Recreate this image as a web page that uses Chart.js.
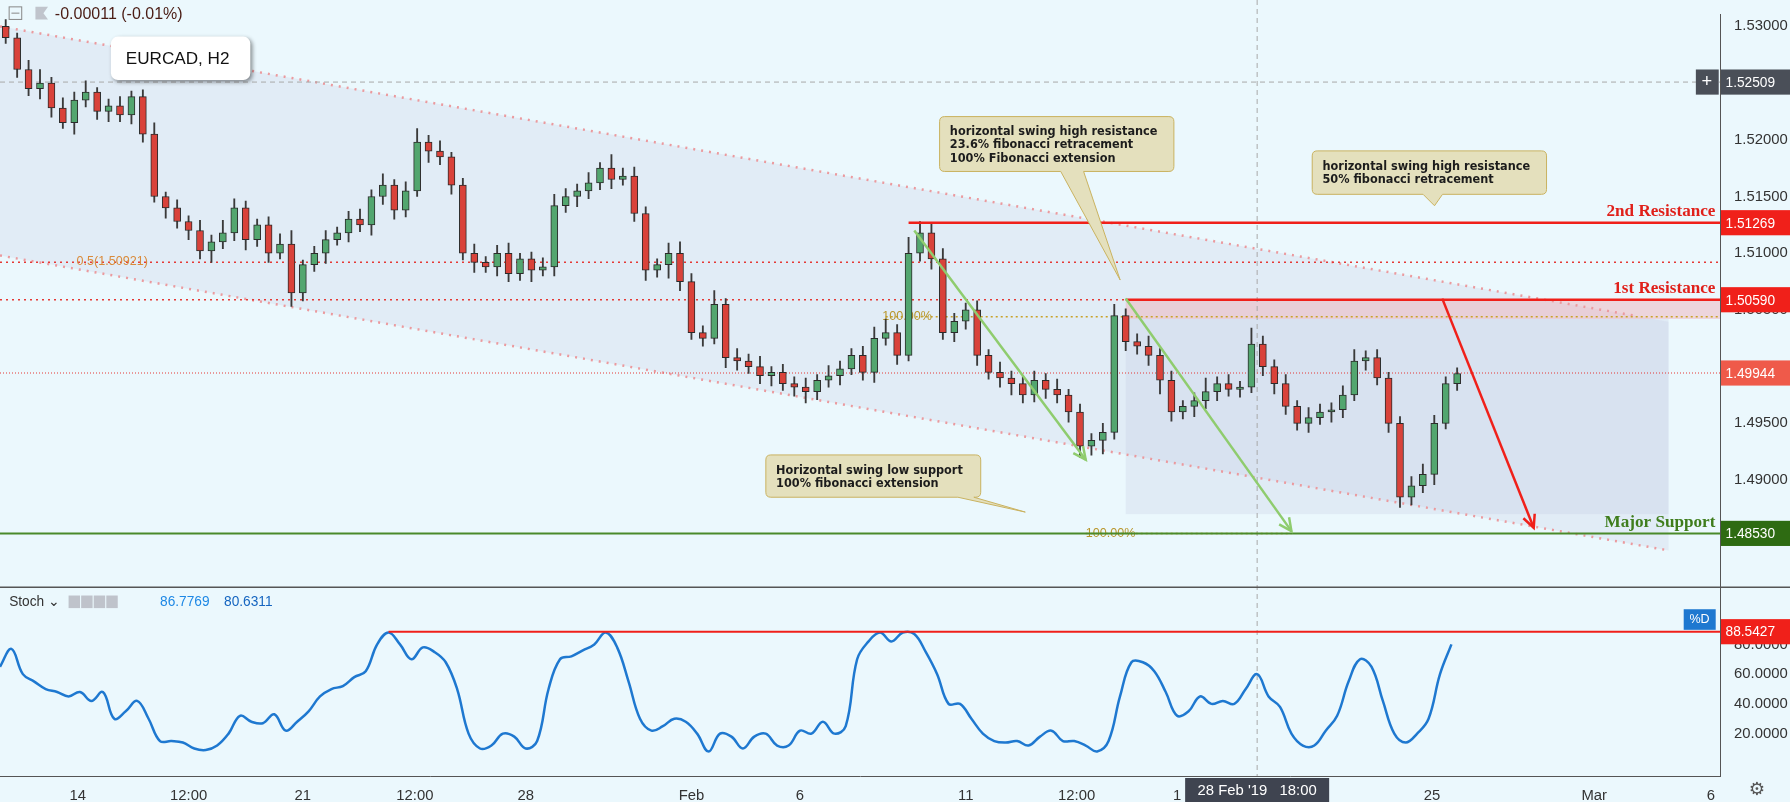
<!DOCTYPE html>
<html>
<head>
<meta charset="UTF-8">
<title>EURCAD H2</title>
<script src="https://cdn.jsdelivr.net/npm/chart.js"></script>
<style>
  html, body { margin: 0; padding: 0; background: #ebf8fd; }
  #wrap { width: 1790px; height: 802px; position: relative; }
</style>
</head>
<body>
<div id="wrap"><canvas id="c" width="1790" height="802"></canvas></div>
<script>
// candle closes (2h bars, every other bar kept)
const closes = [
  1.5290,1.5262,1.5245,1.5250,1.5228,1.5215,1.5235,1.5242,1.5225,1.5230,
  1.5222,1.5238,1.5205,1.5150,1.5140,1.5128,1.5120,1.5102,1.5110,1.5118,
  1.5140,1.5112,1.5125,1.5100,1.5108,1.5065,1.5090,1.5100,1.5112,1.5118,
  1.5130,1.5125,1.5150,1.5160,1.5138,1.5155,1.5198,1.5190,1.5185,1.5160,
  1.5100,1.5092,1.5088,1.5100,1.5082,1.5095,1.5085,1.5088,1.5142,1.5150,
  1.5155,1.5162,1.5175,1.5165,1.5168,1.5135,1.5085,1.5090,1.5100,1.5075,
  1.5030,1.5025,1.5055,1.5008,1.5005,1.5000,1.4992,1.4995,1.4985,1.4982,
  1.4978,1.4988,1.4992,1.4998,1.5010,1.4995,1.5025,1.5030,1.5010,1.5100,
  1.5118,1.5095,1.5030,1.5040,1.5050,1.5010,1.4995,1.4990,1.4985,1.4975,
  1.4988,1.4980,1.4975,1.4960,1.4930,1.4935,1.4942,1.5045,1.5022,1.5018,
  1.5010,1.4988,1.4960,1.4965,1.4970,1.4978,1.4985,1.4980,1.4982,1.5020,
  1.5000,1.4985,1.4965,1.4950,1.4955,1.4960,1.4962,1.4975,1.5005,1.5008,
  1.4990,1.4950,1.4885,1.4895,1.4905,1.4950,1.4985,1.4994
];
const firstOpen = 1.5300;
// wick lengths in pips above / below the body
const upperWick = [
  6,4,8,12,5,9,7,10,4,6, 8,5,6,10,4,7,5,9,6,11, 8,6,5,7,9,12,4,6,8,5,
  7,9,6,10,5,8,12,6,9,4, 6,8,5,7,9,5,6,8,10,7, 6,9,5,12,7,8,6,5,9,10,
  7,6,12,5,8,6,9,5,7,6, 8,5,9,7,6,8,10,12,7,14, 10,8,9,7,6,8,5,9,6,7,
  8,6,9,5,7,6,8,10,6,7, 9,6,8,5,7,12,6,8,5,14, 7,6,8,5,9,7,6,8,10,6, 7,5,6,8,9,7,6,5
];
const lowerWick = [
  5,7,6,9,8,5,10,6,7,9, 6,8,7,5,9,6,8,7,10,6, 7,9,6,8,5,12,7,6,9,5,
  8,6,9,7,8,6,5,10,7,8, 6,9,5,8,7,6,10,5,8,6, 9,7,6,8,5,7,9,6,12,8,
  6,7,5,9,8,6,7,9,6,8, 10,7,6,8,5,7,9,6,8,5, 7,9,6,8,7,9,6,8,10,7,
  6,8,7,9,10,8,12,6,8,7, 9,12,8,6,9,7,8,6,7,5, 8,9,7,6,8,6,9,7,5,8, 6,8,9,7,6,9,5,6
];
// stochastic %D, one value per 20px column of the chart
const stochD = [
  65,77,60,55,50,48,45,48,42,48, 30,35,42,30,15,15,14,10,9,12,
  20,32,28,27,33,22,28,35,45,50, 52,58,62,80,88,80,70,78,75,68,
  50,20,10,12,20,18,10,15,50,70, 72,76,80,88,78,55,30,22,25,30,
  28,20,8,20,18,10,18,20,12,12, 22,20,28,20,25,70,82,88,82,88,
  87,75,60,40,40,30,20,15,14,15, 12,18,22,15,15,12,8,15,45,68,
  68,62,48,32,35,45,40,42,40,50, 60,45,38,20,12,12,22,32,55,70,
  65,42,20,14,20,30,60,80
];
const tickPos = [6.8, 16.5, 26.5, 36.3, 46, 60.5, 70, 84.5, 94.2, 103, 125.3, 139.5, 149.7];
const tickText = ['14','12:00','21','12:00','28','Feb','6','11','12:00','1','25','Mar','6'];

const K = 1790 / 1566;
const UP = '#53a66f', DN = '#d9423a', EDGE = '#2b2b2b';

const opens = closes.map((c, i) => i === 0 ? firstOpen : closes[i - 1]);
const bodies = closes.map((c, i) => ({ x: i + 0.5, y: [opens[i], c] }));
const wicks = closes.map((c, i) => ({
  x: i + 0.5,
  y: [Math.min(opens[i], c) - lowerWick[i] * 0.0001, Math.max(opens[i], c) + upperWick[i] * 0.0001]
}));
const colors = closes.map((c, i) => c >= opens[i] ? UP : DN);

function dashLine(ctx, x1, y1, x2, y2, color, width, dash) {
  ctx.save();
  ctx.strokeStyle = color; ctx.lineWidth = width; ctx.setLineDash(dash || []);
  ctx.beginPath(); ctx.moveTo(x1, y1); ctx.lineTo(x2, y2); ctx.stroke();
  ctx.restore();
}
function arrow(ctx, x1, y1, x2, y2, color, width) {
  dashLine(ctx, x1, y1, x2, y2, color, width);
  const a = Math.atan2(y2 - y1, x2 - x1), L = 14;
  ctx.save(); ctx.strokeStyle = color; ctx.lineWidth = width;
  ctx.beginPath();
  ctx.moveTo(x2 - L * Math.cos(a - 0.45), y2 - L * Math.sin(a - 0.45));
  ctx.lineTo(x2, y2);
  ctx.lineTo(x2 - L * Math.cos(a + 0.45), y2 - L * Math.sin(a + 0.45));
  ctx.stroke(); ctx.restore();
}
function tag(ctx, x, y, text, bg, fg) {
  ctx.save();
  ctx.font = (12 * K) + 'px "Liberation Sans", sans-serif';
  ctx.fillStyle = bg;
  ctx.fillRect(x, y - 11 * K, 62 * K, 22 * K);
  ctx.fillStyle = fg; ctx.textBaseline = 'middle'; ctx.textAlign = 'left';
  ctx.fillText(text, x + 4 * K, y + 1);
  ctx.restore();
}
function callout(ctx, bx, by, bw, bh, px1, px2, tx, ty, lines) {
  ctx.save();
  ctx.fillStyle = '#e4e0bd'; ctx.strokeStyle = '#c9b260'; ctx.lineWidth = 1;
  const r = 5;
  ctx.beginPath();
  ctx.moveTo(bx + r, by); ctx.lineTo(bx + bw - r, by); ctx.quadraticCurveTo(bx + bw, by, bx + bw, by + r);
  ctx.lineTo(bx + bw, by + bh - r); ctx.quadraticCurveTo(bx + bw, by + bh, bx + bw - r, by + bh);
  ctx.lineTo(px2, by + bh); ctx.lineTo(tx, ty); ctx.lineTo(px1, by + bh);
  ctx.lineTo(bx + r, by + bh); ctx.quadraticCurveTo(bx, by + bh, bx, by + bh - r);
  ctx.lineTo(bx, by + r); ctx.quadraticCurveTo(bx, by, bx + r, by);
  ctx.closePath(); ctx.fill(); ctx.stroke();
  ctx.fillStyle = '#1c1c1c';
  ctx.font = 'bold ' + (11 * K) + 'px "DejaVu Sans Condensed", "DejaVu Sans", sans-serif';
  ctx.textBaseline = 'top';
  lines.forEach((l, i) => ctx.fillText(l, bx + 9 * K, by + 8 * K + i * 11.5 * K));
  ctx.restore();
}

const overlay = {
  id: 'overlay',
  beforeDatasetsDraw(chart) {
    const ctx = chart.ctx, x = chart.scales.x, y = chart.scales.y;
    const X = v => x.getPixelForValue(v), Y = v => y.getPixelForValue(v);
    const a = chart.chartArea;
    // channel fill
    const up = i => 1.5300 - 0.0255 * i / 143, lo = i => 1.5098 - 0.0260 * i / 146;
    ctx.save();
    ctx.fillStyle = 'rgba(190,195,225,0.22)';
    ctx.beginPath(); ctx.moveTo(X(0), Y(up(0))); ctx.lineTo(X(146), Y(up(146)));
    ctx.lineTo(X(146), Y(lo(146))); ctx.lineTo(X(0), Y(lo(0))); ctx.closePath(); ctx.fill();
    ctx.fillStyle = 'rgba(190,195,225,0.25)';
    ctx.fillRect(X(98.5), Y(1.5042), X(146) - X(98.5), Y(1.4870) - Y(1.5042));
    ctx.fillStyle = 'rgba(240,170,180,0.45)';
    ctx.fillRect(X(98.5), Y(1.5059), X(150.5) - X(98.5), Y(1.5042) - Y(1.5059));
    ctx.restore();
    dashLine(ctx, X(0), Y(up(0)), X(143), Y(up(143)), '#eb9a9e', 2.5, [2, 6]);
    dashLine(ctx, X(0), Y(lo(0)), X(146), Y(lo(146)), '#eb9a9e', 2.5, [2, 6]);
    // crosshair
    dashLine(ctx, a.left, Y(1.52509), a.right, Y(1.52509), '#a9a9a9', 1, [5, 4]);
    dashLine(ctx, X(110), 0, X(110), a.bottom, '#a9a9a9', 1, [5, 4]);
    // horizontal levels
    dashLine(ctx, a.left, Y(1.50921), a.right, Y(1.50921), '#e53935', 1.5, [2, 4]);
    dashLine(ctx, a.left, Y(1.50590), a.right, Y(1.50590), '#e53935', 1.5, [2, 4]);
    dashLine(ctx, a.left, Y(1.49944), a.right, Y(1.49944), '#e53935', 1, [1, 2]);
    dashLine(ctx, X(77.5), Y(1.5044), a.right, Y(1.5044), '#c9a227', 1.5, [2, 3]);
    dashLine(ctx, X(95), Y(1.4853), X(113), Y(1.4853), '#c9a227', 1.5, [2, 3]);
    ctx.save();
    ctx.font = (11 * K) + 'px "Liberation Sans", sans-serif';
    ctx.fillStyle = '#d98a3a'; ctx.textBaseline = 'bottom';
    ctx.fillText('0.5(1.50921)', X(6.7), Y(1.50921) + 5 * K);
    ctx.fillStyle = '#b8962b'; ctx.textBaseline = 'middle';
    ctx.fillText('100.00%', X(77.2), Y(1.5044));
    ctx.fillText('100.00%', X(95), Y(1.4853));
    ctx.restore();
  },
  afterDatasetsDraw(chart) {
    const ctx = chart.ctx, x = chart.scales.x, y = chart.scales.y, s = chart.scales.ys;
    const X = v => x.getPixelForValue(v), Y = v => y.getPixelForValue(v);
    const a = chart.chartArea;
    dashLine(ctx, X(79.5), Y(1.51269), a.right, Y(1.51269), '#f0201a', 2.5);
    dashLine(ctx, X(98.5), Y(1.50590), a.right, Y(1.50590), '#f0201a', 2.5);
    dashLine(ctx, a.left, Y(1.48530), a.right, Y(1.48530), '#4a8a2a', 2);
    dashLine(ctx, X(34), s.getPixelForValue(88.5427), a.right, s.getPixelForValue(88.5427), '#f0201a', 2);
    arrow(ctx, X(80), Y(1.5120), X(95), Y(1.4918), '#8fcc6e', 2.5);
    arrow(ctx, X(98.5), Y(1.5060), X(113), Y(1.4855), '#8fcc6e', 2.5);
    arrow(ctx, X(126.2), Y(1.5060), X(134.2), Y(1.4858), '#f0201a', 2.5);
    // pane separator
    const sep = (Y(y.min) + s.getPixelForValue(s.max)) / 2;
    dashLine(ctx, 0, sep, a.right + 70, sep, '#555', 1.5);
    ctx.save();
    ctx.font = 'bold ' + (15 * K) + 'px "Liberation Serif", serif';
    ctx.textAlign = 'right'; ctx.textBaseline = 'bottom';
    ctx.fillStyle = '#e0201a';
    ctx.fillText('2nd Resistance', a.right - 4 * K, Y(1.51269) - 3);
    ctx.fillText('1st Resistance', a.right - 4 * K, Y(1.50590) - 3);
    ctx.fillStyle = '#3f7d1c';
    ctx.fillText('Major Support', a.right - 4 * K, Y(1.48530) - 2);
    ctx.restore();
    callout(ctx, 822 * K, 102 * K, 205 * K, 48 * K, 928 * K, 948 * K, 980 * K, 245 * K,
      ['horizontal swing high resistance', '23.6% fibonacci retracement', '100% Fibonacci extension']);
    callout(ctx, 1148 * K, 132 * K, 205 * K, 38 * K, 1245 * K, 1262 * K, 1255 * K, 180 * K,
      ['horizontal swing high resistance', '50% fibonacci retracement']);
    callout(ctx, 670 * K, 398 * K, 188 * K, 37 * K, 838 * K, 852 * K, 897 * K, 448 * K,
      ['Horizontal swing low support', '100% fibonacci extension']);
    // symbol box
    ctx.save();
    ctx.shadowColor = 'rgba(0,0,0,0.45)'; ctx.shadowBlur = 4; ctx.shadowOffsetX = 2; ctx.shadowOffsetY = 2;
    ctx.fillStyle = '#fff';
    ctx.beginPath(); ctx.roundRect(97 * K, 32 * K, 122 * K, 38 * K, 7); ctx.fill();
    ctx.restore();
    ctx.save();
    ctx.fillStyle = '#111'; ctx.font = (15 * K) + 'px "Liberation Sans", sans-serif';
    ctx.textBaseline = 'middle'; ctx.fillText('EURCAD, H2', 110 * K, 52 * K);
    // header
    ctx.font = (14 * K) + 'px "Liberation Sans", sans-serif';
    ctx.fillStyle = '#4a1c14'; ctx.fillText('-0.00011 (-0.01%)', 48 * K, 13 * K);
    ctx.strokeStyle = '#888'; ctx.lineWidth = 1; ctx.strokeRect(8 * K, 6 * K, 11 * K, 11 * K);
    dashLine(ctx, 10 * K, 11.5 * K, 17 * K, 11.5 * K, '#888', 1);
    ctx.fillStyle = '#c0c4cc';
    ctx.beginPath(); ctx.moveTo(31 * K, 6 * K); ctx.lineTo(42 * K, 6 * K); ctx.lineTo(38 * K, 11.5 * K);
    ctx.lineTo(42 * K, 17 * K); ctx.lineTo(31 * K, 17 * K); ctx.closePath(); ctx.fill();
    // stoch legend
    const ly = 527 * K;
    ctx.font = (12 * K) + 'px "Liberation Sans", sans-serif';
    ctx.fillStyle = '#333'; ctx.fillText('Stoch \u2304', 8 * K, ly);
    ctx.fillStyle = '#bfc3cb';
    for (let i = 0; i < 4; i++) ctx.fillRect((60 + i * 11) * K, ly - 6 * K, 10 * K, 11 * K);
    ctx.fillStyle = '#1e88e5'; ctx.fillText('86.7769', 140 * K, ly);
    ctx.fillStyle = '#1565c0'; ctx.fillText('80.6311', 196 * K, ly);
    ctx.restore();
    // axis tags
    const ax = a.right + 1;
    tag(ctx, ax, Y(1.52509), '1.52509', '#4a4f58', '#fff');
    ctx.save(); ctx.fillStyle = '#4a4f58'; ctx.fillRect(ax - 22 * K, Y(1.52509) - 11 * K, 20 * K, 22 * K);
    ctx.fillStyle = '#fff'; ctx.font = (16 * K) + 'px sans-serif'; ctx.textBaseline = 'middle';
    ctx.fillText('+', ax - 17 * K, Y(1.52509)); ctx.restore();
    tag(ctx, ax, Y(1.51269), '1.51269', '#f0201a', '#fff');
    tag(ctx, ax, Y(1.50590), '1.50590', '#f0201a', '#fff');
    tag(ctx, ax, Y(1.49944), '1.49944', '#ef5a4a', '#fff');
    tag(ctx, ax, Y(1.48530), '1.48530', '#2e6b12', '#fff');
    tag(ctx, ax, s.getPixelForValue(88.5427), '88.5427', '#f0201a', '#fff');
    ctx.save();
    ctx.fillStyle = '#1e78d0'; ctx.fillRect(1473 * K, 533 * K, 28 * K, 18 * K);
    ctx.fillStyle = '#fff'; ctx.font = (11 * K) + 'px "Liberation Sans", sans-serif';
    ctx.textBaseline = 'middle'; ctx.fillText('%D', 1478 * K, 542 * K);
    // date box
    ctx.fillStyle = '#3f4450'; ctx.fillRect(X(110) - 63 * K, a.bottom + 2, 126 * K, 22 * K);
    ctx.fillStyle = '#fff'; ctx.font = (13 * K) + 'px "Liberation Sans", sans-serif';
    ctx.textAlign = 'center'; ctx.fillText("28 Feb '19   18:00", X(110), a.bottom + 2 + 11 * K);
    // settings gear
    ctx.fillStyle = '#555'; ctx.font = (16 * K) + 'px "DejaVu Sans"';
    ctx.fillText('\u2699', 1537 * K, a.bottom + 2 + 11 * K);
    ctx.restore();
  }
};

new Chart(document.getElementById('c'), {
  type: 'bar',
  data: {
    datasets: [
      { data: wicks, yAxisID: 'y', backgroundColor: '#3a3a3a', barThickness: 1.2, grouped: false, order: 2 },
      { data: bodies, yAxisID: 'y', backgroundColor: colors, borderColor: EDGE, borderWidth: 1,
        borderSkipped: false, barThickness: 7, grouped: false, order: 1 },
      { type: 'line', data: stochD.map((v, i) => ({ x: i * 1.0, y: v })), yAxisID: 'ys',
        borderColor: '#1e78d0', borderWidth: 2.5, pointRadius: 0, tension: 0.4, order: 0 }
    ]
  },
  options: {
    responsive: false,
    animation: false,
    layout: { padding: { left: 0, right: 0, top: 0, bottom: 0 } },
    plugins: { legend: { display: false }, tooltip: { enabled: false } },
    scales: {
      x: {
        type: 'linear', min: 0, max: 150.5, offset: false,
        grid: { display: false }, border: { color: '#555' },
        afterBuildTicks: sc => { sc.ticks = tickPos.map(v => ({ value: v })); },
        afterFit: sc => { sc.height = 26; },
        ticks: {
          autoSkip: false, maxRotation: 0, color: '#333',
          font: { size: 13 * K, family: '"Liberation Sans", sans-serif' },
          callback: (v, i) => tickText[i]
        }
      },
      y: {
        position: 'right', stack: 'pane', stackWeight: 500, offset: false,
        min: 1.48056, max: 1.53101,
        grid: { display: false }, border: { color: '#555' },
        afterBuildTicks: sc => {
          const t = [];
          for (let v = 1.485; v < 1.5305; v += 0.005) t.push({ value: v });
          sc.ticks = t;
        },
        afterFit: sc => { sc.width = 70; },
        ticks: { color: '#333', font: { size: 13 * K, family: '"Liberation Sans", sans-serif' },
          callback: v => v.toFixed(5), padding: 6 }
      },
      ys: {
        position: 'right', stack: 'pane', stackWeight: 165, offset: false,
        min: -8.5, max: 118.5,
        grid: { display: false }, border: { color: '#555' },
        afterBuildTicks: sc => { sc.ticks = [20, 40, 60, 80].map(v => ({ value: v })); },
        afterFit: sc => { sc.width = 70; },
        ticks: { color: '#333', font: { size: 13 * K, family: '"Liberation Sans", sans-serif' },
          callback: v => v.toFixed(4), padding: 6 }
      }
    }
  },
  plugins: [overlay]
});
</script>
</body>
</html>
